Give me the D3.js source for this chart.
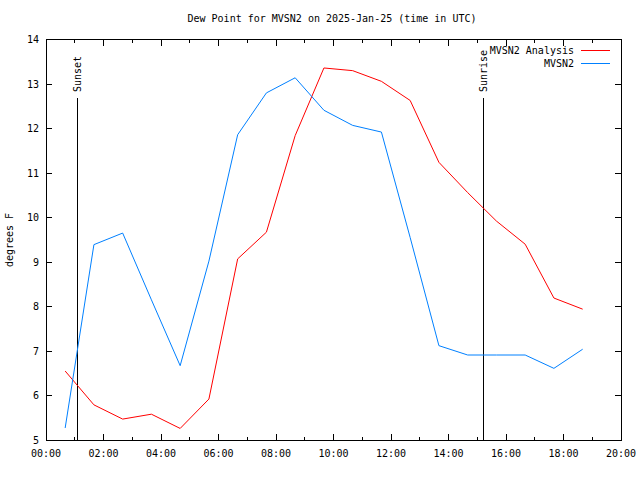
<!DOCTYPE html>
<html><head><meta charset="utf-8">
<script src="https://cdn.jsdelivr.net/npm/d3@7"></script>
<style>
body{margin:0;background:#fff;}
text{font-family:"DejaVu Sans Mono","Liberation Mono",monospace;font-size:10px;fill:#000;}
</style></head><body>
<svg id="c" width="640" height="480"></svg>
<script>
const times = ["00:40","01:40","02:40","03:40","04:40","05:40","06:40","07:40","08:40","09:40","10:40","11:40","12:40","13:40","14:40","15:40","16:40","17:40","18:40"];
const analysis = [6.55,5.79,5.47,5.58,5.26,5.92,9.07,9.67,11.84,13.36,13.30,13.06,12.63,11.24,10.56,9.92,9.40,8.19,7.94];
const observed = [5.27,9.39,9.65,8.15,6.67,9.02,11.86,12.80,13.14,12.41,12.07,11.92,9.55,7.12,6.91,6.91,6.91,6.61,7.04];
const xTickLabels = ["00:00","02:00","04:00","06:00","08:00","10:00","12:00","14:00","16:00","18:00","20:00"];
const yTicks = [5,6,7,8,9,10,11,12,13,14];
const sunset = "01:05", sunrise = "15:13";
const seriesNames = ["MVSN2 Analysis","MVSN2"];
const colors = ["#ff0000","#0080ff"];
const title = "Dew Point for MVSN2 on 2025-Jan-25 (time in UTC)";

const L=46, R=621, T=39.5, B=440;
const toH = s => { const [h,m]=s.split(":").map(Number); return h+m/60; };
const x = d3.scaleLinear().domain([0,20]).range([L,R]);
const y = d3.scaleLinear().domain([5,14]).range([B,T]);
const svg = d3.select("#c");

svg.append("text").attr("x",332).attr("y",22).attr("text-anchor","middle").text(title);

const major = xTickLabels.map(toH);
const minor = d3.range(1,20,2);
const ax = svg.append("g").attr("shape-rendering","crispEdges").attr("stroke","#000");
// bottom ticks
const bot = d3.axisBottom(x).tickValues(major).tickFormat((d,i)=>xTickLabels[i]).tickSize(6).tickSizeOuter(0).tickPadding(7);
const gb = svg.append("g").attr("transform",`translate(0,${B})`).call(g=>{
  g.selectAll("line").data(major).enter().append("line")
   .attr("x1",d=>x(d)).attr("x2",d=>x(d)).attr("y1",0).attr("y2",-6).attr("stroke","#000").attr("shape-rendering","crispEdges");
  g.selectAll("line.mn").data(minor).enter().append("line").attr("class","mn")
   .attr("x1",d=>x(d)).attr("x2",d=>x(d)).attr("y1",0).attr("y2",-3).attr("stroke","#000").attr("shape-rendering","crispEdges");
  g.selectAll("text").data(major).enter().append("text")
   .attr("x",d=>x(d)).attr("y",17).attr("text-anchor","middle").text((d,i)=>xTickLabels[i]);
});
// top ticks
svg.append("g").attr("transform",`translate(0,${T})`).call(g=>{
  g.selectAll("line").data(major).enter().append("line")
   .attr("x1",d=>x(d)).attr("x2",d=>x(d)).attr("y1",0).attr("y2",6).attr("stroke","#000").attr("shape-rendering","crispEdges");
  g.selectAll("line.mn").data(minor).enter().append("line").attr("class","mn")
   .attr("x1",d=>x(d)).attr("x2",d=>x(d)).attr("y1",0).attr("y2",3).attr("stroke","#000").attr("shape-rendering","crispEdges");
});
// left/right ticks
svg.append("g").call(g=>{
  g.selectAll("line.l").data(yTicks).enter().append("line").attr("class","l")
   .attr("x1",L).attr("x2",L+6).attr("y1",d=>y(d)).attr("y2",d=>y(d)).attr("stroke","#000").attr("shape-rendering","crispEdges");
  g.selectAll("line.r").data(yTicks).enter().append("line").attr("class","r")
   .attr("x1",R).attr("x2",R-6).attr("y1",d=>y(d)).attr("y2",d=>y(d)).attr("stroke","#000").attr("shape-rendering","crispEdges");
  g.selectAll("text").data(yTicks).enter().append("text")
   .attr("x",39).attr("y",d=>y(d)+3.5).attr("text-anchor","end").text(d=>d);
});
svg.append("rect").attr("x",L).attr("y",T).attr("width",R-L).attr("height",B-T)
  .attr("fill","none").attr("stroke","#000").attr("shape-rendering","crispEdges");

svg.append("text").attr("transform","translate(13,240) rotate(-90)").attr("text-anchor","middle").text("degrees F");

// sunset / sunrise
[[sunset,"Sunset",98],[sunrise,"Sunrise",98]].forEach(([t,lab,y0])=>{
  const xx = x(toH(t));
  svg.append("line").attr("x1",xx).attr("x2",xx).attr("y1",y0).attr("y2",B)
    .attr("stroke","#000").attr("shape-rendering","crispEdges");
  svg.append("text").attr("transform",`translate(${xx+4},92) rotate(-90)`).attr("text-anchor","start").text(lab);
});

const line = d3.line().x((d,i)=>x(toH(times[i]))).y(d=>y(d));
[analysis,observed].forEach((s,k)=>{
  svg.append("path").datum(s).attr("d",line).attr("fill","none").attr("stroke",colors[k]).attr("stroke-width",1);
});

// legend
seriesNames.forEach((n,k)=>{
  const yy = 50 + k*13;
  svg.append("text").attr("x",574).attr("y",yy+3.5).attr("text-anchor","end").text(n);
  svg.append("line").attr("x1",581).attr("x2",610).attr("y1",yy).attr("y2",yy)
    .attr("stroke",colors[k]).attr("shape-rendering","crispEdges");
});
</script></body></html>
